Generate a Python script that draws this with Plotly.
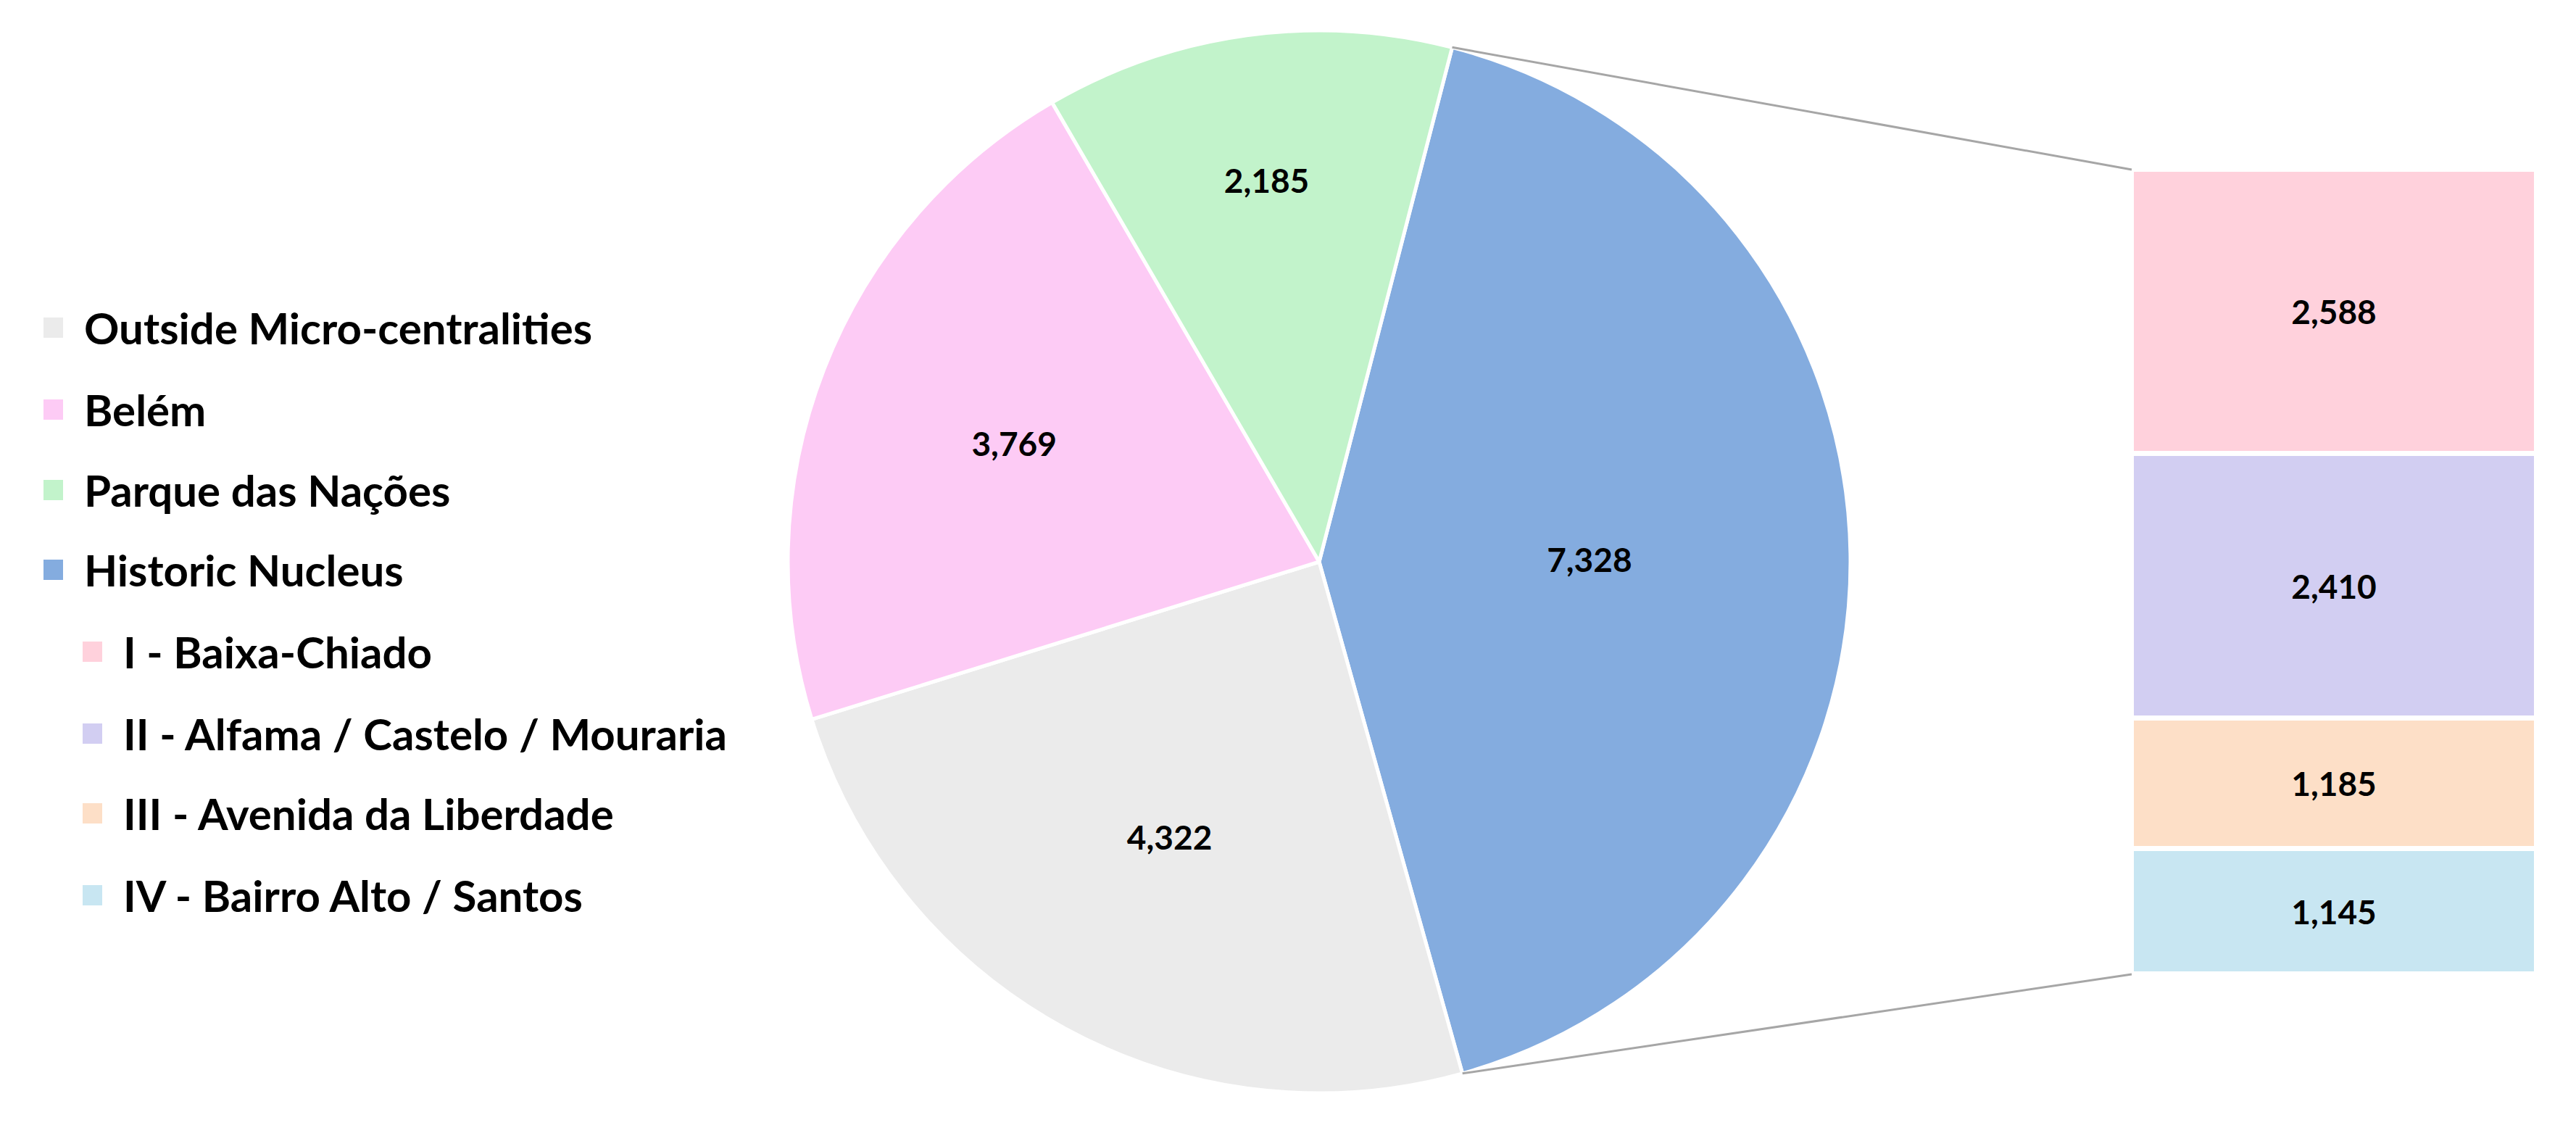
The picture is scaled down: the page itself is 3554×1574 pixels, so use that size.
import math
import plotly.graph_objects as go

# main pie
areas = ["Historic Nucleus", "Outside Micro-centralities", "Belém", "Parque das Nações"]
area_values = [7328, 4322, 3769, 2185]
area_colors = ["#84ACDF", "#EBEBEB", "#FDCBF5", "#C2F3CB"]

# breakdown of the historic nucleus (bottom to top)
sub_areas = ["IV - Bairro Alto / Santos", "III - Avenida da Liberdade",
             "II - Alfama / Castelo / Mouraria", "I - Baixa-Chiado"]
sub_values = [1145, 1185, 2410, 2588]
sub_colors = ["#C8E6F2", "#FDDFC7", "#D2CEF2", "#FFD1DC"]

legend_items = [
    ("Outside Micro-centralities", "#EBEBEB", 0),
    ("Belém", "#FDCBF5", 0),
    ("Parque das Nações", "#C2F3CB", 0),
    ("Historic Nucleus", "#84ACDF", 0),
    ("I - Baixa-Chiado", "#FFD1DC", 1),
    ("II - Alfama / Castelo / Mouraria", "#D2CEF2", 1),
    ("III - Avenida da Liberdade", "#FDDFC7", 1),
    ("IV - Bairro Alto / Santos", "#C8E6F2", 1),
]

W, H = 3554, 1574
FONT = "Lato"
rotation = 14.5

# pie geometry (pixels)
cx, cy, r = 1812, 767, 733
bx0, bx1, by0, by1 = 2933, 3492, 226, 1336

fig = go.Figure()
fig.add_trace(go.Pie(
    labels=areas, values=area_values, sort=False, direction="clockwise",
    rotation=rotation, marker=dict(colors=area_colors, line=dict(color="white", width=5)),
    texttemplate="%{value:,}", textposition="inside", insidetextorientation="horizontal",
    textfont=dict(family=FONT, size=46, color="black", weight="bold"),
    domain=dict(x=[(cx - r) / W, (cx + r) / W], y=[1 - (cy + r) / H, 1 - (cy - r) / H]),
    showlegend=False, hoverinfo="label+value",
))

for name, v, c in zip(sub_areas, sub_values, sub_colors):
    fig.add_trace(go.Bar(
        x=[0], y=[v], name=name, marker=dict(color=c, line=dict(color="white", width=7)),
        text=[f"{v:,}"], textposition="inside", insidetextanchor="middle",
        textfont=dict(family=FONT, size=46, color="black", weight="bold"),
        showlegend=False, width=1,
    ))

# connector lines from the blue slice edges to the breakdown column
blue_frac = area_values[0] / sum(area_values)
a0 = math.radians(rotation)
a1 = math.radians(rotation + 360 * blue_frac)
p_top = (cx + r * math.sin(a0), cy - r * math.cos(a0))
p_bot = (cx + r * math.sin(a1), cy - r * math.cos(a1))
for (px, py), by in [(p_top, by0), (p_bot, by1)]:
    fig.add_shape(type="line", xref="paper", yref="paper",
                  x0=px / W, y0=1 - py / H, x1=bx0 / W, y1=1 - by / H,
                  line=dict(color="#A6A6A6", width=3))

# manual legend
rows_y = [444, 557, 668, 778, 891, 1004, 1114, 1227]
for (label, color, indent), y in zip(legend_items, rows_y):
    x0 = 52 + indent * 54
    fig.add_shape(type="rect", xref="paper", yref="paper",
                  x0=x0 / W, x1=(x0 + 27) / W, y0=1 - (y + 14) / H, y1=1 - (y - 14) / H,
                  fillcolor=color, line=dict(width=0))
    fig.add_annotation(x=(x0 + 54) / W, y=1 - y / H, xref="paper", yref="paper",
                       text=label, showarrow=False, xanchor="left", yanchor="middle",
                       font=dict(family=FONT, size=60, color="black", weight="bold"))

fig.update_layout(
    width=W, height=H, margin=dict(l=0, r=0, t=0, b=0),
    paper_bgcolor="white", plot_bgcolor="white", barmode="stack", bargap=0,
    xaxis=dict(domain=[bx0 / W, bx1 / W], range=[-0.5, 0.5], visible=False),
    yaxis=dict(domain=[1 - by1 / H, 1 - by0 / H], range=[0, sum(sub_values)], visible=False),
)

fig.write_html("out.html")
